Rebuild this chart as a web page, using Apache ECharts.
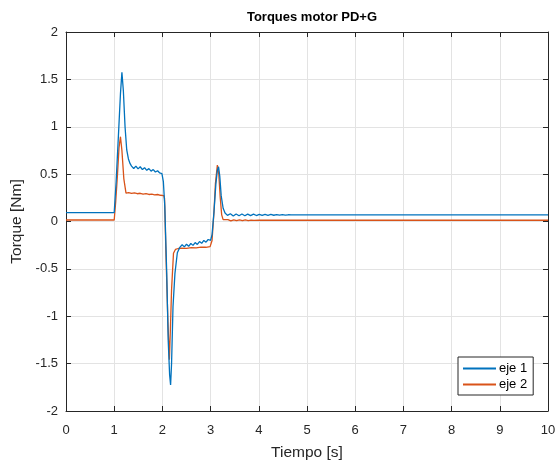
<!DOCTYPE html>
<html>
<head>
<meta charset="utf-8">
<script src="https://cdn.jsdelivr.net/npm/echarts@6/dist/echarts.min.js"></script>
<style>html,body{margin:0;padding:0;background:#fff;}#c{width:557px;height:461px;}</style>
</head>
<body>
<div id="c"></div>
<script>
const titleText = 'Torques motor PD+G';
const xName = 'Tiempo [s]';
const yName = 'Torque [Nm]';
const seriesNames = ['eje 1', 'eje 2'];

// eje 1: [time (s), torque (Nm)]
const eje1 = [
  [0,0.093],[1.0,0.093],[1.04,0.42],[1.085,0.88],[1.13,1.35],[1.16,1.575],[1.19,1.38],[1.225,1.0],[1.26,0.755],[1.295,0.66],[1.33,0.61],[1.36,0.585],
  [1.405,0.56],[1.45,0.585],[1.495,0.555],[1.54,0.578],[1.585,0.548],[1.63,0.568],[1.675,0.54],[1.72,0.558],[1.765,0.532],[1.81,0.548],[1.855,0.522],[1.90,0.535],[1.945,0.512],[1.99,0.505],
  [2.02,0.42],[2.05,0.156],[2.09,-0.55],[2.12,-1.25],[2.15,-1.62],[2.17,-1.726],[2.19,-1.5],[2.22,-0.9],[2.26,-0.55],[2.31,-0.33],[2.365,-0.27],
  [2.41,-0.245],[2.455,-0.268],[2.50,-0.24],[2.545,-0.262],[2.59,-0.232],[2.635,-0.252],[2.68,-0.222],[2.725,-0.242],[2.77,-0.212],[2.815,-0.23],[2.86,-0.2],[2.905,-0.218],[2.95,-0.19],[3.0,-0.2],
  [3.03,-0.14],[3.07,0.1],[3.11,0.4],[3.14,0.54],[3.165,0.578],[3.19,0.48],[3.22,0.27],[3.26,0.14],[3.3,0.09],[3.35,0.065],
  [3.41,0.082],[3.47,0.058],[3.53,0.08],[3.59,0.06],[3.65,0.079],[3.71,0.061],[3.77,0.078],[3.83,0.062],[3.89,0.077],[3.95,0.063],[4.01,0.076],[4.07,0.064],[4.13,0.075],[4.19,0.065],[4.25,0.074],[4.31,0.066],[4.37,0.073],[4.43,0.067],[4.49,0.072],[4.55,0.068],[4.61,0.071],[4.67,0.069],[4.8,0.07],[10,0.07]
];

// eje 2: [time (s), torque (Nm)]
const eje2 = [
  [0,0.016],[1.0,0.016],[1.03,0.2],[1.065,0.47],[1.1,0.78],[1.13,0.895],[1.16,0.75],[1.2,0.45],[1.245,0.30],
  [1.3,0.305],[1.36,0.296],[1.42,0.302],[1.48,0.293],[1.54,0.298],[1.6,0.289],[1.66,0.294],[1.72,0.285],[1.78,0.29],[1.84,0.281],[1.9,0.285],[1.96,0.277],[2.03,0.272],
  [2.045,0.24],[2.075,-0.37],[2.115,-1.07],[2.145,-1.46],[2.165,-1.15],[2.19,-0.72],[2.23,-0.336],[2.27,-0.295],
  [2.33,-0.285],[2.4,-0.28],[2.5,-0.283],[2.6,-0.276],[2.7,-0.278],[2.8,-0.271],[2.9,-0.272],[2.99,-0.265],
  [3.03,-0.2],[3.07,0.1],[3.1,0.4],[3.14,0.596],[3.17,0.5],[3.2,0.25],[3.23,0.07],[3.26,0.02],[3.3,0.012],
  [3.36,0.02],[3.42,0.006],[3.48,0.018],[3.54,0.008],[3.6,0.017],[3.66,0.009],[3.72,0.016],[3.78,0.01],[3.84,0.015],[3.9,0.011],[4.0,0.013],[10,0.013]
];

const xTicks = [0,1,2,3,4,5,6,7,8,9,10];
const yTicks = [-2,-1.5,-1,-0.5,0,0.5,1,1.5,2];

const font = "'Liberation Sans', Arial, Helvetica, sans-serif";
const axisColor = '#262626';

const chart = echarts.init(document.getElementById('c'), null, {renderer: 'canvas'});
chart.setOption({
  animation: false,
  backgroundColor: '#ffffff',
  title: {
    text: titleText,
    left: 307, top: 6, textAlign: 'center',
    textStyle: {fontFamily: font, fontSize: 13, fontWeight: 'bold', color: '#000'}
  },
  grid: {left: 66, right: 9, top: 32, bottom: 50, show: false, containLabel: false, outerBoundsMode: 'none'},
  legend: {
    data: seriesNames,
    orient: 'vertical',
    left: 458, top: 357,
    padding: [5, 6, 4, 5],
    itemGap: 3,
    itemWidth: 33, itemHeight: 2,
    icon: 'rect',
    backgroundColor: '#fff',
    borderColor: axisColor, borderWidth: 1,
    textStyle: {fontFamily: font, fontSize: 13, color: '#000', padding: [0,0,0,-2]}
  },
  xAxis: [{
    type: 'value', min: xTicks[0], max: xTicks[xTicks.length-1], interval: 1,
    name: xName, nameLocation: 'middle', nameGap: 34,
    nameTextStyle: {fontFamily: font, fontSize: 15.5, color: axisColor},
    axisLine: {show: true, onZero: false, lineStyle: {color: axisColor, width: 1}},
    axisTick: {show: true, inside: true, length: 5, lineStyle: {color: axisColor}},
    axisLabel: {fontFamily: font, fontSize: 13, color: axisColor, margin: 13},
    splitLine: {show: true, lineStyle: {color: '#e3e3e3', width: 1}}
  }, {
    type: 'value', position: 'top', min: 0, max: 10, interval: 1,
    axisLine: {show: true, onZero: false, lineStyle: {color: axisColor, width: 1}},
    axisTick: {show: true, inside: true, length: 5, lineStyle: {color: axisColor}},
    axisLabel: {show: false}, splitLine: {show: false}
  }],
  yAxis: [{
    type: 'value', min: yTicks[0], max: yTicks[yTicks.length-1], interval: 0.5,
    name: yName, nameLocation: 'middle', nameGap: 33,
    nameTextStyle: {fontFamily: font, fontSize: 15.5, color: axisColor},
    axisLine: {show: true, onZero: false, lineStyle: {color: axisColor, width: 1}},
    axisTick: {show: true, inside: true, length: 5, lineStyle: {color: axisColor}},
    axisLabel: {fontFamily: font, fontSize: 13, color: axisColor, margin: 8},
    splitLine: {show: true, lineStyle: {color: '#e3e3e3', width: 1}}
  }, {
    type: 'value', position: 'right', min: -2, max: 2, interval: 0.5,
    axisLine: {show: true, onZero: false, lineStyle: {color: axisColor, width: 1}},
    axisTick: {show: true, inside: true, length: 5, lineStyle: {color: axisColor}},
    axisLabel: {show: false}, splitLine: {show: false}
  }],
  series: [{
    name: seriesNames[0], type: 'line', data: eje1, showSymbol: false, symbol: 'none',
    lineStyle: {color: '#0072BD', width: 1.3}, itemStyle: {color: '#0072BD'}, z: 3
  }, {
    name: seriesNames[1], type: 'line', data: eje2, showSymbol: false, symbol: 'none',
    lineStyle: {color: '#D95319', width: 1.3}, itemStyle: {color: '#D95319'}, z: 2
  }]
});
</script>
</body>
</html>
